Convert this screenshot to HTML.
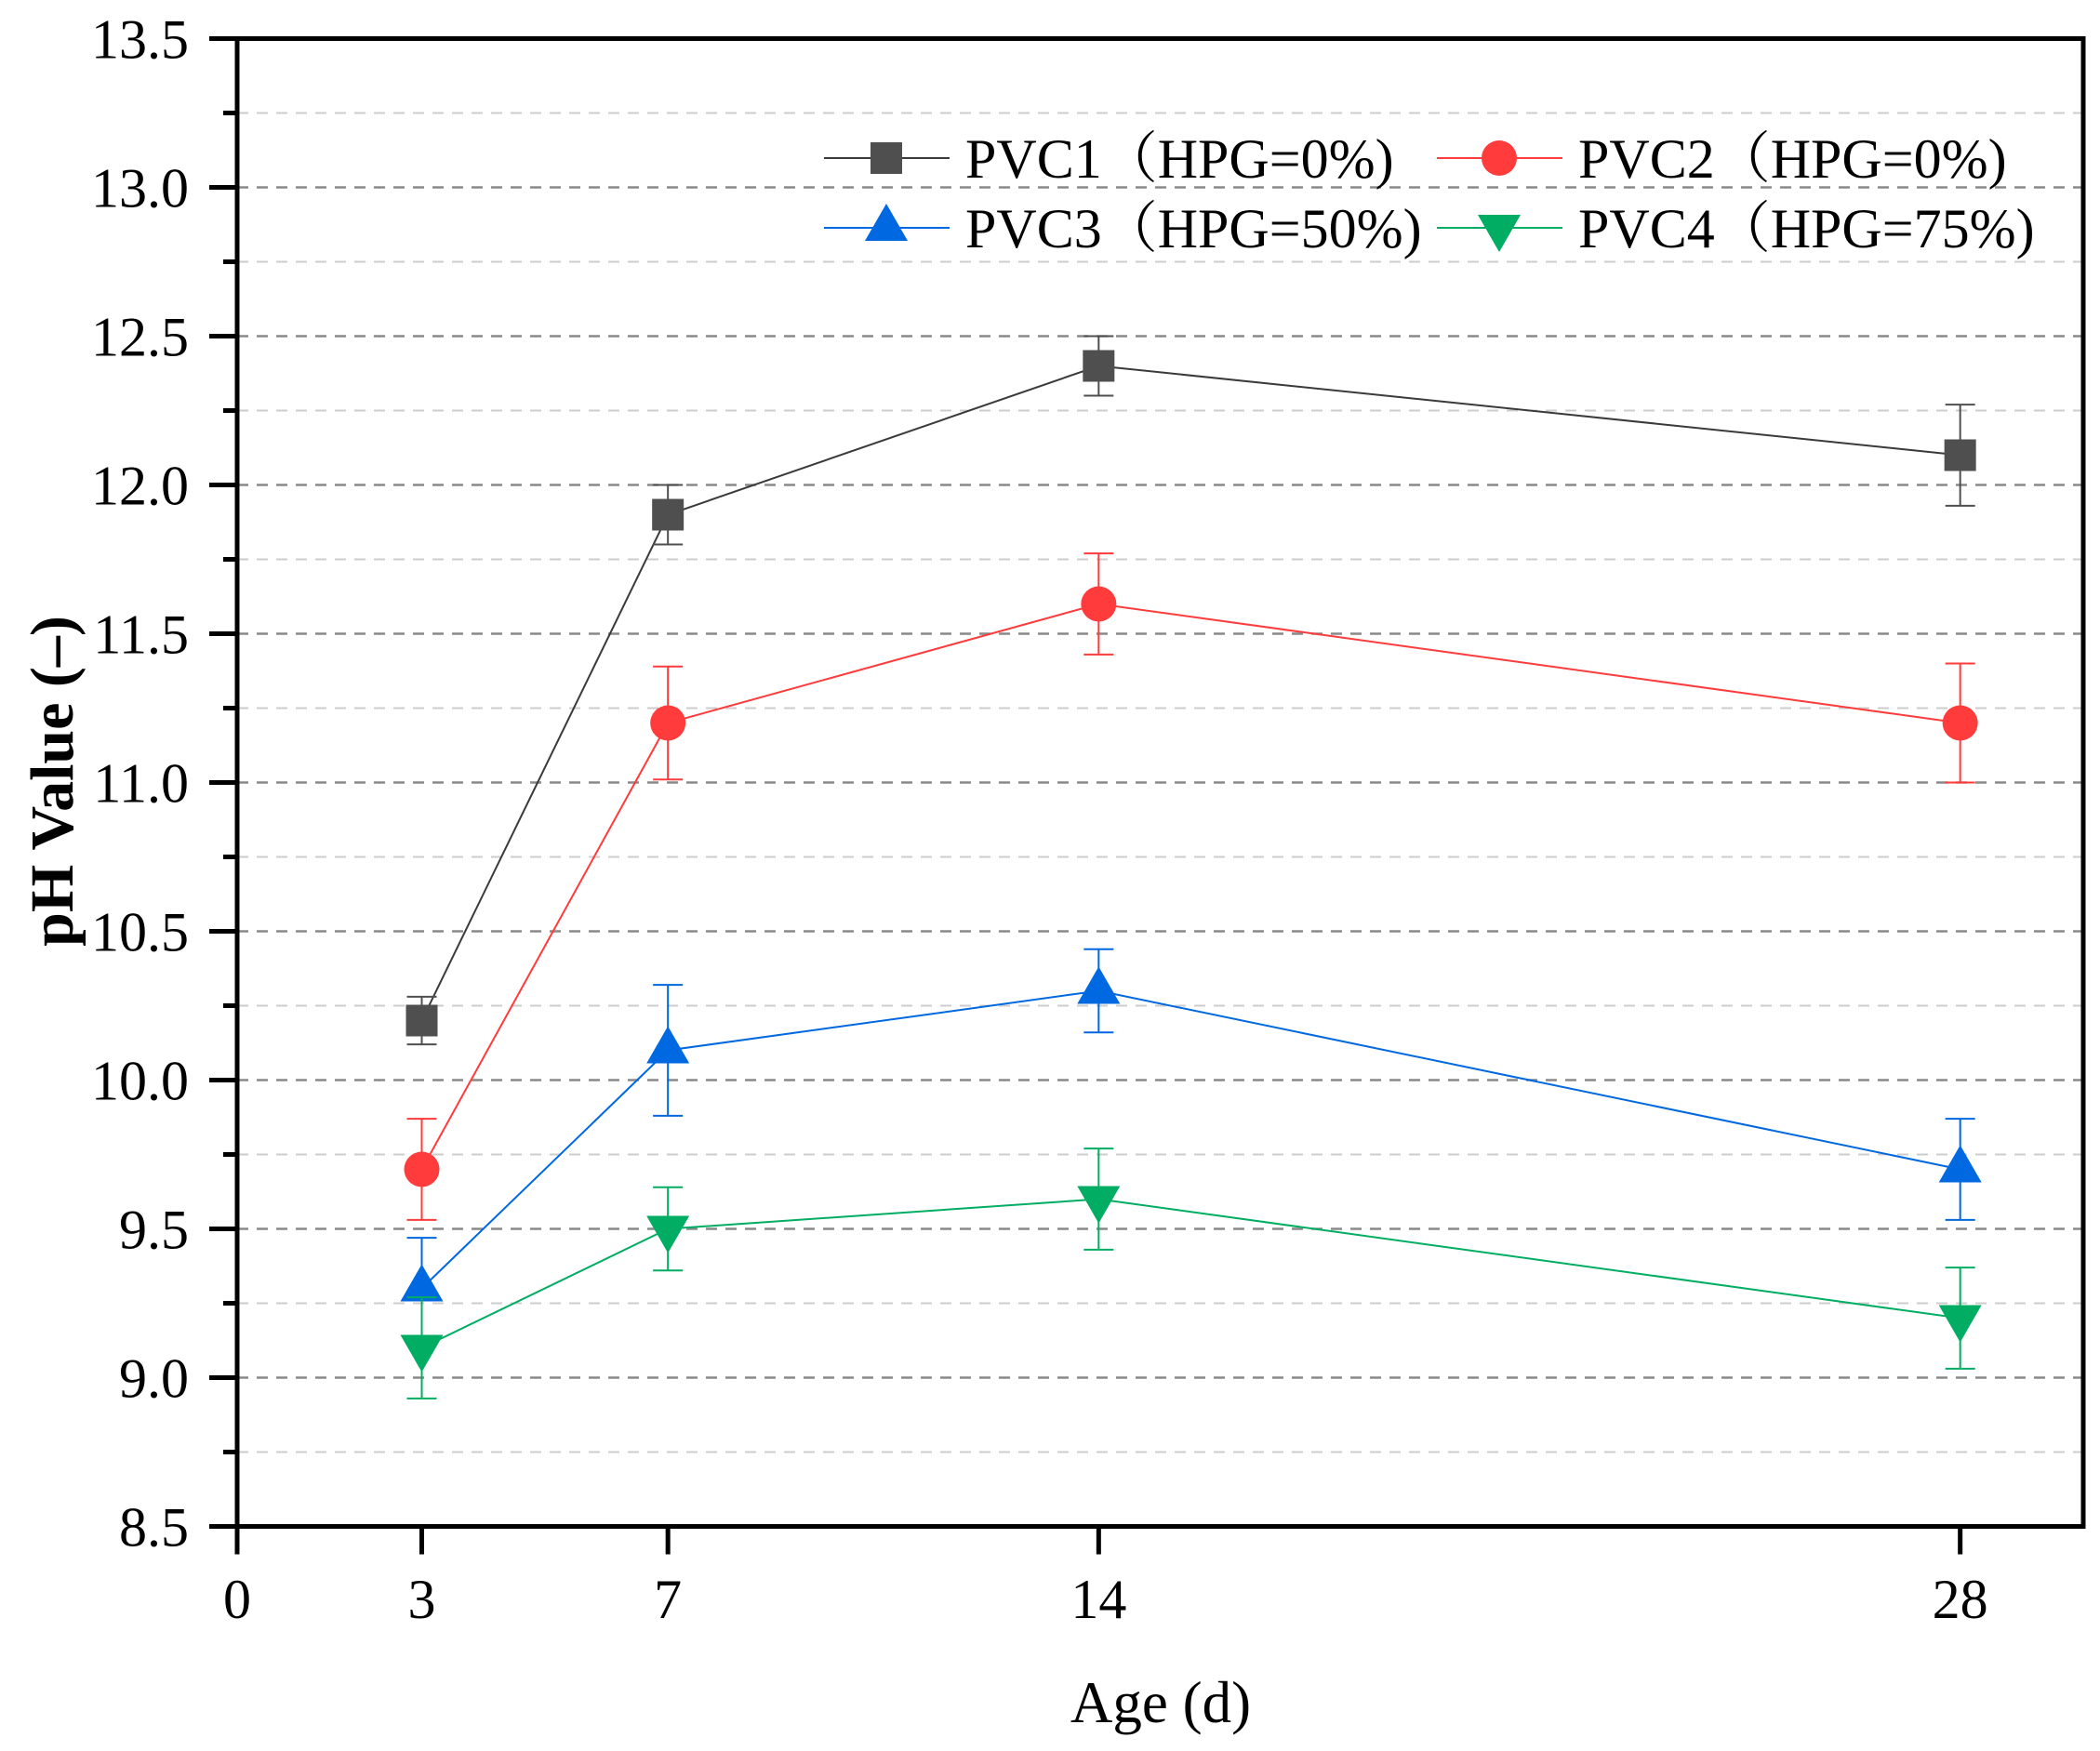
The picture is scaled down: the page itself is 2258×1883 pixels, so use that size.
<!DOCTYPE html>
<html><head><meta charset="utf-8"><style>
html,body{margin:0;padding:0;background:#fff;}
svg{display:block;font-family:"Liberation Serif","Noto Serif CJK SC",serif;}
</style></head><body>
<svg id="chart" width="2258" height="1883" viewBox="0 0 2258 1883" xmlns="http://www.w3.org/2000/svg">
<g id="grid"></g>
<g id="series"></g>
<g id="axes"></g>
<text x="78" y="840" transform="rotate(-90 78 840)" text-anchor="middle" font-size="66" font-weight="bold">pH Value (–)</text>
<text x="1248" y="1852" text-anchor="middle" font-size="63">Age (d)</text>
<g id="legend"></g>
</svg>
<script>
const xCats = [3, 7, 14, 28];
const xTicks = [0, 3, 7, 14, 28];
const yTicks = [8.5, 9.0, 9.5, 10.0, 10.5, 11.0, 11.5, 12.0, 12.5, 13.0, 13.5];
const pvc1 = [10.2, 11.9, 12.4, 12.1];
const pvc1Err = [0.08, 0.1, 0.1, 0.17];
const pvc2 = [9.7, 11.2, 11.6, 11.2];
const pvc2Err = [0.17, 0.19, 0.17, 0.2];
const pvc3 = [9.3, 10.1, 10.3, 9.7];
const pvc3Err = [0.17, 0.22, 0.14, 0.17];
const pvc4 = [9.1, 9.5, 9.6, 9.2];
const pvc4Err = [0.17, 0.14, 0.17, 0.17];
const seriesNames = ["PVC1（HPG=0%)", "PVC2（HPG=0%)", "PVC3（HPG=50%)", "PVC4（HPG=75%)"];

const NS = "http://www.w3.org/2000/svg";
const L = 255, R = 2240, T = 41.5, B = 1641.5;
const xMin = 0, xMax = 30, yMin = 8.5, yMax = 13.5;
const xs = v => L + (v - xMin) / (xMax - xMin) * (R - L);
const ys = v => B - (v - yMin) / (yMax - yMin) * (B - T);
function mk(tag, attrs, parent) { const e = document.createElementNS(NS, tag); for (const k in attrs) e.setAttribute(k, attrs[k]); parent.appendChild(e); return e; }
const grid = document.getElementById('grid'), axes = document.getElementById('axes'), ser = document.getElementById('series'), leg = document.getElementById('legend');

for (let v = yMin + 0.25; v < yMax - 0.01; v += 0.25) {
  const major = Math.abs(v * 2 - Math.round(v * 2)) < 0.01;
  const g = mk('line', {x1: L, x2: R, y1: ys(v), y2: ys(v), stroke: major ? '#8a8a8a' : '#cccccc', 'stroke-width': major ? 2.5 : 2, 'stroke-dasharray': '12 9'}, grid);
  
  
}
const fr = mk('rect', {x: L, y: T, width: R - L, height: B - T, fill: 'none', stroke: '#000', 'stroke-width': 5}, axes);


yTicks.forEach((v, i) => {
  const t = mk('line', {x1: L - 30, x2: L, y1: ys(v), y2: ys(v), stroke: '#000', 'stroke-width': 5}, axes);
  
  
  if (i < yTicks.length - 1) {
    const m = mk('line', {x1: L - 15, x2: L, y1: ys(v + 0.25), y2: ys(v + 0.25), stroke: '#000', 'stroke-width': 5}, axes);
    
    
  }
  const tx = mk('text', {x: 203, y: ys(v) + 21, 'text-anchor': 'end', 'font-size': 60}, axes);
  tx.textContent = v.toFixed(1);
  
  
});
xTicks.forEach(v => {
  const t = mk('line', {x1: xs(v), x2: xs(v), y1: B, y2: B + 30, stroke: '#000', 'stroke-width': 5}, axes);
  
  
  const tx = mk('text', {x: xs(v), y: 1740, 'text-anchor': 'middle', 'font-size': 60}, axes);
  tx.textContent = String(v);
  
  
});

function marker(kind, cx, cy, color, parent) {
  let e;
  if (kind === 'square') e = mk('rect', {x: cx - 17, y: cy - 17, width: 34, height: 34, fill: color}, parent);
  else if (kind === 'circle') e = mk('circle', {cx: cx, cy: cy, r: 19, fill: color}, parent);
  else if (kind === 'up') e = mk('polygon', {points: `${cx},${cy - 26} ${cx - 23},${cy + 14} ${cx + 23},${cy + 14}`, fill: color}, parent);
  else e = mk('polygon', {points: `${cx},${cy + 26} ${cx - 23},${cy - 14} ${cx + 23},${cy - 14}`, fill: color}, parent);
  return e;
}
const defs = [
  {vals: pvc1, err: pvc1Err, color: '#4f4f4f', line: '#3a3a3a', kind: 'square', key: 'pvc1'},
  {vals: pvc2, err: pvc2Err, color: '#ff3b3b', line: '#ff3b3b', kind: 'circle', key: 'pvc2'},
  {vals: pvc3, err: pvc3Err, color: '#0068e0', line: '#0068e0', kind: 'up', key: 'pvc3'},
  {vals: pvc4, err: pvc4Err, color: '#00ad62', line: '#00ad62', kind: 'down', key: 'pvc4'}
];
defs.forEach(d => {
  const g = mk('g', {}, ser);
  
  
  const pl = mk('polyline', {points: xCats.map((x, i) => xs(x) + ',' + ys(d.vals[i])).join(' '), fill: 'none', stroke: d.line, 'stroke-width': 2}, g);
  
  
  xCats.forEach((x, i) => {
    const cx = xs(x), hi = ys(d.vals[i] + d.err[i]), lo = ys(d.vals[i] - d.err[i]);
    const eb = mk('path', {d: `M${cx},${hi}V${lo}M${cx - 16},${hi}H${cx + 16}M${cx - 16},${lo}H${cx + 16}`, stroke: d.color, 'stroke-width': 2, fill: 'none'}, g);
    
    
    const m = marker(d.kind, cx, ys(d.vals[i]), d.color, g);
    
    
  });
});
const legPos = [[886, 170], [1545, 170], [886, 245], [1545, 245]];
defs.forEach((d, i) => {
  const [lx, ly] = legPos[i];
  const g = mk('g', {}, leg);
  
  
  mk('line', {x1: lx, x2: lx + 135, y1: ly, y2: ly, stroke: d.line, 'stroke-width': 2}, g);
  marker(d.kind, lx + 67, ly, d.color, g);
  const t = mk('text', {x: lx + 152, y: ly + 21, 'font-size': 60}, g);
  t.textContent = seriesNames[i];
});
</script>
</body></html>
